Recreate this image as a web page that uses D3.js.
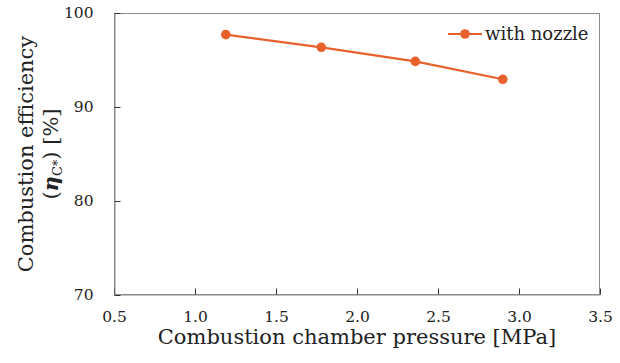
<!DOCTYPE html>
<html><head><meta charset="utf-8">
<script src="https://cdn.jsdelivr.net/npm/d3@7"></script>
<style>
body{margin:0;background:#fff;}
text{font-family:"DejaVu Serif","Liberation Serif",serif;fill:#222;}
</style></head>
<body><svg id="c" width="620" height="363"></svg>
<script>
const pressure = [1.19, 1.78, 2.36, 2.90];
const efficiency = [97.7, 96.35, 94.85, 92.95];
const seriesName = "with nozzle";
const xTicks = [0.5, 1.0, 1.5, 2.0, 2.5, 3.0, 3.5];
const yTicks = [70, 80, 90, 100];

const svg = d3.select("#c");
const m = {l:114, r:600, t:13, b:295};
const x = d3.scaleLinear().domain([0.5,3.5]).range([m.l,m.r]);
const y = d3.scaleLinear().domain([70,100]).range([m.b,m.t]);
const col = "#E8612C";

// frame
svg.append("rect").attr("x",m.l+0.5).attr("y",m.t+0.5).attr("width",m.r-m.l-1).attr("height",m.b-m.t-1)
  .attr("fill","none").attr("stroke","#8a8a8a").attr("stroke-width",1);

const xa = svg.append("g").attr("transform",`translate(0,${m.b-0.5})`)
  .call(d3.axisBottom(x).tickValues(xTicks).tickFormat(d3.format(".1f")).tickSizeInner(-6).tickSizeOuter(0).tickPadding(16));
xa.select(".domain").attr("stroke","#8a8a8a");
xa.selectAll(".tick line").attr("stroke","#333");
xa.selectAll(".tick text").style("font-size","15.5px").attr("fill","#222");

const ya = svg.append("g").attr("transform",`translate(${m.l+0.5},0)`)
  .call(d3.axisLeft(y).tickValues(yTicks).tickFormat(d3.format("d")).tickSizeInner(-6).tickSizeOuter(0).tickPadding(21));
ya.select(".domain").attr("stroke","#8a8a8a");
ya.selectAll(".tick line").attr("stroke","#333");
ya.selectAll(".tick text").style("font-size","15.5px").attr("fill","#222");

const data = pressure.map((p,i)=>({p, e:efficiency[i]}));
svg.append("path").datum(data)
  .attr("d", d3.line().x(d=>x(d.p)).y(d=>y(d.e)))
  .attr("fill","none").attr("stroke",col).attr("stroke-width",2.2);
svg.selectAll("circle.pt").data(data).join("circle").attr("class","pt")
  .attr("cx",d=>x(d.p)).attr("cy",d=>y(d.e)).attr("r",4.8).attr("fill",col);

// legend
const lg = svg.append("g");
lg.append("line").attr("x1",448).attr("x2",482).attr("y1",34).attr("y2",34).attr("stroke",col).attr("stroke-width",2.2);
lg.append("circle").attr("cx",465).attr("cy",34).attr("r",4.8).attr("fill",col);
lg.append("text").attr("x",485).attr("y",40).style("font-size","18px").text(seriesName);

// axis titles
svg.append("text").attr("x",(m.l+m.r)/2).attr("y",344).attr("text-anchor","middle")
  .style("font-size","21px").text("Combustion chamber pressure [MPa]");
const cy = (m.t+m.b)/2;
svg.append("text").attr("transform",`translate(33,${cy}) rotate(-90)`).attr("text-anchor","middle")
  .style("font-size","21px").text("Combustion efficiency");
const t2 = svg.append("text").attr("transform",`translate(58,${cy}) rotate(-90)`).attr("text-anchor","middle")
  .style("font-size","21px");
t2.append("tspan").text("(");
t2.append("tspan").style("font-weight","bold").style("font-style","italic").text("η");
t2.append("tspan").attr("dy",4).style("font-size","13px").text("C*");
t2.append("tspan").attr("dy",-4).text(") [%]");
</script></body></html>
